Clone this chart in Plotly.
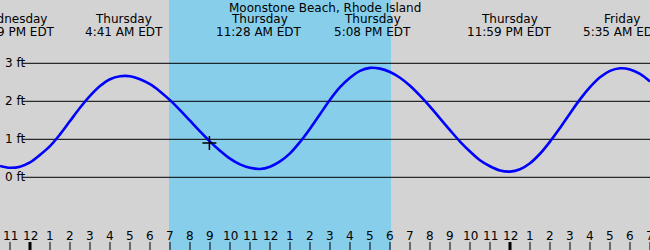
import plotly.graph_objects as go

# ---- data (hours relative to Thursday 00:00 EDT, heights in ft) ----
curve_hours = [-1.5, -1.0, -0.5, 0, 0.5, 1, 1.5, 2, 2.5, 3, 3.5, 4, 4.5, 5, 5.5, 6, 6.5, 7, 7.5, 8,
               8.5, 9, 9.5, 10, 10.5, 11, 11.5, 12, 12.5, 13, 13.5, 14, 14.5, 15, 15.5, 16, 16.5, 17,
               17.5, 18, 18.5, 19, 19.5, 20, 20.5, 21, 21.5, 22, 22.5, 23, 23.5, 24, 24.5, 25, 25.5,
               26, 26.5, 27, 27.5, 28, 28.5, 29, 29.5, 30, 30.5, 31]
curve_heights = [0.30, 0.25, 0.28, 0.39, 0.59, 0.82, 1.13, 1.48, 1.83, 2.14, 2.40, 2.58, 2.66, 2.66, 2.58,
                 2.45, 2.26, 2.03, 1.77, 1.49, 1.21, 0.94, 0.70, 0.49, 0.34, 0.25, 0.22, 0.28, 0.42, 0.63,
                 0.93, 1.28, 1.66, 2.04, 2.37, 2.62, 2.80, 2.88, 2.86, 2.77, 2.62, 2.41, 2.15, 1.86, 1.55,
                 1.24, 0.94, 0.68, 0.45, 0.29, 0.18, 0.15, 0.21, 0.37, 0.62, 0.94, 1.30, 1.68, 2.05, 2.37,
                 2.63, 2.80, 2.87, 2.84, 2.72, 2.52]

extreme_hours = [-0.87, 4.68, 11.47, 17.13, 23.98, 29.58]
extreme_days = ["Wednesday", "Thursday", "Thursday", "Thursday", "Thursday", "Friday"]
extreme_times = ["11:09 PM EDT", "4:41 AM EDT", "11:28 AM EDT", "5:08 PM EDT", "11:59 PM EDT", "5:35 AM EDT"]

sunrise_hour = 6.95
sunset_hour = 18.05

now_hour = 8.97
now_height = 0.90

tick_hours = [-1, 0, 1, 2, 3, 4, 5, 6, 7, 8, 9, 10, 11, 12, 13, 14, 15, 16, 17, 18, 19, 20, 21, 22, 23,
              24, 25, 26, 27, 28, 29, 30, 31]
tick_labels = ["11", "12", "1", "2", "3", "4", "5", "6", "7", "8", "9", "10", "11", "12", "1", "2", "3",
               "4", "5", "6", "7", "8", "9", "10", "11", "12", "1", "2", "3", "4", "5", "6", "7"]
midnight_hours = [0, 24]

grid_levels = [0, 1, 2, 3]
grid_labels = ["0 ft", "1 ft", "2 ft", "3 ft"]

title = "Moonstone Beach, Rhode Island"

# ---- geometry helpers ----
W, H = 650, 250
X_RANGE = [-1.5, 31]
Y_ZERO_PX, PX_PER_FT = 177.3, 38.0
Y_RANGE = [(Y_ZERO_PX - H) / PX_PER_FT, Y_ZERO_PX / PX_PER_FT]


def py(px):
    return 1 - px / H


FONT = dict(family="DejaVu Sans", size=12, color="black")

fig = go.Figure()

fig.add_trace(go.Scatter(x=curve_hours, y=curve_heights, mode="lines",
                         line=dict(color="#0000ff", width=2.6, shape="spline", smoothing=1),
                         hoverinfo="skip", showlegend=False))
fig.add_trace(go.Scatter(x=[now_hour], y=[now_height], mode="markers",
                         marker=dict(symbol="cross-thin", size=10, line=dict(color="black", width=1.5)),
                         hoverinfo="skip", showlegend=False))

shapes = [dict(type="rect", xref="x", yref="paper", x0=sunrise_hour, x1=sunset_hour, y0=0, y1=1,
               fillcolor="#87ceeb", line=dict(width=0), layer="below")]
for lv in grid_levels:
    shapes.append(dict(type="line", xref="x", yref="y", x0=-0.4, x1=X_RANGE[1], y0=lv, y1=lv,
                       line=dict(color="black", width=1), layer="below"))
for th in tick_hours:
    thick = th in midnight_hours
    shapes.append(dict(type="line", xref="x", yref="paper", x0=th, x1=th, y0=py(242), y1=0,
                       line=dict(color="black", width=3 if thick else 1)))

annotations = [dict(text=title, x=0.5, xref="paper", y=py(7.5), yref="paper", showarrow=False,
                    xanchor="center", yanchor="middle", font=FONT)]
for hh, d, t in zip(extreme_hours, extreme_days, extreme_times):
    annotations.append(dict(text=d, x=hh, xref="x", y=py(19.5), yref="paper", showarrow=False,
                            xanchor="center", yanchor="middle", font=FONT))
    annotations.append(dict(text=t, x=hh, xref="x", y=py(31.5), yref="paper", showarrow=False,
                            xanchor="center", yanchor="middle", font=FONT))
for lv, lab in zip(grid_levels, grid_labels):
    annotations.append(dict(text=lab, x=3 / W, xref="paper", y=lv, yref="y", showarrow=False,
                            xanchor="left", yanchor="middle", font=FONT))
for th, lab in zip(tick_hours, tick_labels):
    annotations.append(dict(text=lab, x=th, xref="x", y=py(235.5), yref="paper", showarrow=False,
                            xanchor="center", yanchor="middle", font=FONT))

fig.update_layout(
    width=W, height=H, margin=dict(l=0, r=0, t=0, b=0, pad=0),
    paper_bgcolor="#d3d3d3", plot_bgcolor="#d3d3d3",
    xaxis=dict(range=X_RANGE, visible=False, fixedrange=True),
    yaxis=dict(range=Y_RANGE, visible=False, fixedrange=True),
    shapes=shapes, annotations=annotations, showlegend=False,
)

fig.write_html("out.html", config={"displayModeBar": False})
